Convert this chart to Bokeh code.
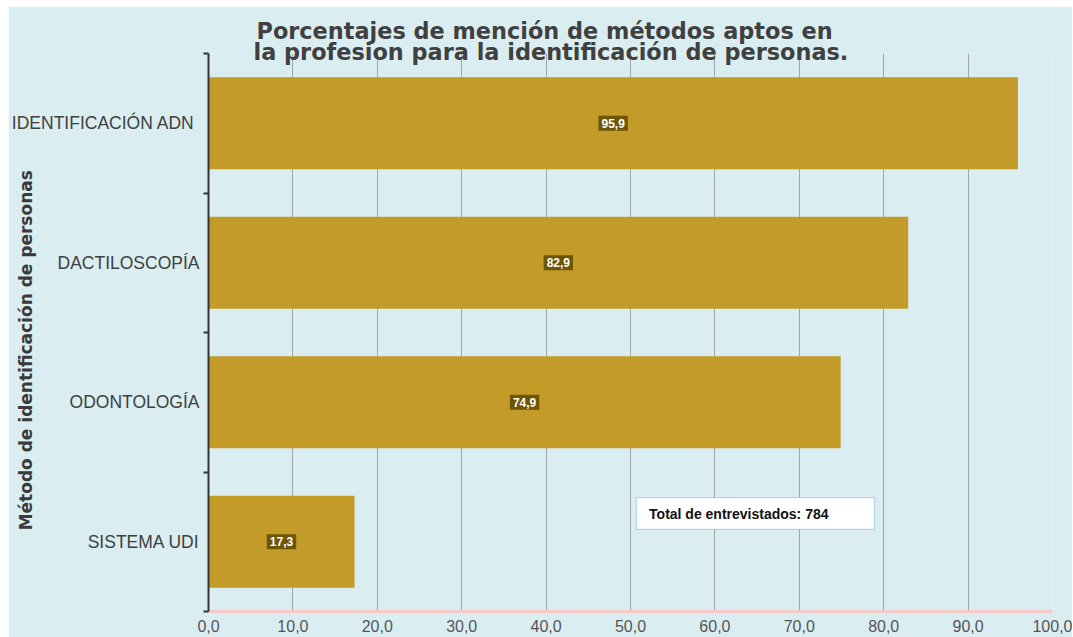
import math
from bokeh.plotting import figure
from bokeh.models import Range1d, FixedTicker, Label, BoxAnnotation, Title
from bokeh.embed import file_html
from bokeh.resources import INLINE

# ---- data (top to bottom as in the chart) ----
methods = ["IDENTIFICACIÓN  ADN", "DACTILOSCOPÍA", "ODONTOLOGÍA", "SISTEMA UDI"]
percentages = [95.9, 82.9, 74.9, 17.3]
value_labels = ["95,9", "82,9", "74,9", "17,3"]
x_ticks = [0, 10, 20, 30, 40, 50, 60, 70, 80, 90, 100]
x_tick_labels = ["0,0", "10,0", "20,0", "30,0", "40,0", "50,0", "60,0", "70,0", "80,0", "90,0", "100,0"]
total_interviewed = 784
title_lines = ["Porcentajes de mención de métodos aptos en",
               "la profesion para la identificación de personas."]
y_title = "Método de identificación de personas"

BG = "#DAEEF2"
BAR = "#C29B29"
LBL_BG = "#6E5502"

n = len(methods)
ypos = [n - 1 - i + 0.5 for i in range(n)]

p = figure(width=1064, height=631, output_backend="svg", toolbar_location=None,
           x_range=Range1d(0, 100), y_range=Range1d(0, n),
           min_border_left=200, min_border_right=20, min_border_top=47, min_border_bottom=26)
p.styles = {"margin-left": "8px", "margin-top": "6px"}
p.background_fill_color = BG
p.border_fill_color = BG
p.outline_line_color = None

p.hbar(y=ypos, right=percentages, left=0, height=0.66, fill_color=BAR, line_color=None)

# x axis
xa = p.xaxis[0]
xa.ticker = FixedTicker(ticks=x_ticks, minor_ticks=[])
xa.major_label_overrides = {t: l for t, l in zip(x_ticks, x_tick_labels)}
xa.axis_line_color = "#F6C8C8"
xa.axis_line_width = 3
xa.major_tick_line_color = None
xa.minor_tick_line_color = None
xa.major_tick_out = 0
xa.major_label_standoff = 8
xa.major_label_text_font = "Liberation Sans"
xa.major_label_text_font_size = "16px"
xa.major_label_text_color = "#555555"

# y axis
ya = p.yaxis[0]
ya.ticker = FixedTicker(ticks=ypos, minor_ticks=list(range(n + 1)))
ya.major_label_overrides = {y: m for y, m in zip(ypos, methods)}
ya.axis_line_color = "#333333"
ya.axis_line_width = 2
ya.major_tick_line_color = None
ya.major_tick_out = 0
ya.major_tick_in = 0
ya.minor_tick_line_color = "#333333"
ya.minor_tick_line_width = 2
ya.minor_tick_out = 5
ya.minor_tick_in = 0
ya.major_label_standoff = 4
ya.major_label_text_font = "Liberation Sans"
ya.major_label_text_font_size = "17.5px"
ya.major_label_text_color = "#404040"
ya.axis_label = y_title + "\u00a0" * 6
ya.axis_label_standoff = -27
ya.axis_label_text_font = "DejaVu Sans"
ya.axis_label_text_font_style = "bold"
ya.axis_label_text_font_size = "17px"
ya.axis_label_text_color = "#3A3A3A"

p.xgrid.grid_line_color = "#9EA6A9"
p.xgrid.grid_line_width = 1
p.ygrid.grid_line_color = None

# value labels in the middle of the bars
for y, v, t in zip(ypos, percentages, value_labels):
    p.add_layout(Label(x=v / 2, y=y, text=t, text_align="center", text_baseline="middle",
                       text_color="white", text_font="Liberation Sans", text_font_style="bold",
                       text_font_size="12px", background_fill_color=LBL_BG, padding=3))

# total box
p.add_layout(BoxAnnotation(left=50.7, right=78.9, bottom=0.588, top=0.817,
                           fill_color="white", fill_alpha=1, line_color="#4A7EBB", line_width=1.2))
p.add_layout(Label(x=52.2, y=0.70, text=f"Total de entrevistados: {total_interviewed}",
                   text_align="left", text_baseline="middle", text_color="#111111",
                   text_font="Liberation Sans", text_font_style="bold", text_font_size="14px"))

# title (two lines, second one closest to the frame)
p.add_layout(Title(text=title_lines[1], align="left", offset=45, vertical_align="bottom",
                   standoff=-22, text_color="#404040", text_font="DejaVu Sans",
                   text_font_style="bold", text_font_size="22.4px"), "above")
p.add_layout(Title(text=title_lines[0], align="left", offset=48, vertical_align="bottom",
                   standoff=8, text_color="#404040", text_font="DejaVu Sans",
                   text_font_style="bold", text_font_size="22.4px"), "above")

open("out.html", "w").write(file_html(p, INLINE))
